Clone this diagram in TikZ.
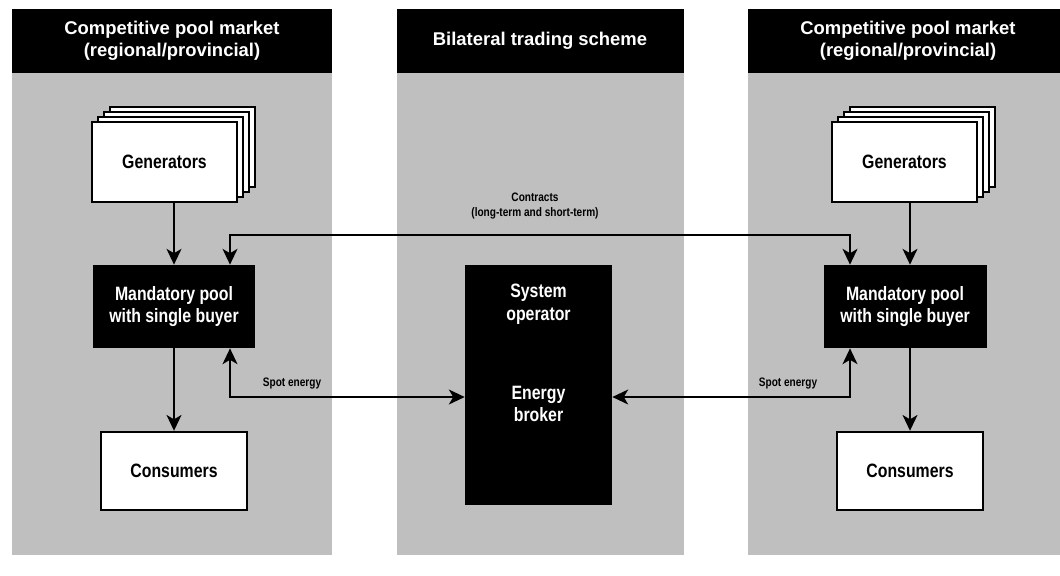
\documentclass[tikz,border=0pt]{standalone}
\usepackage{fontspec}
\setmainfont{Liberation Sans}
\newfontfamily\narrowfont[FakeStretch=0.82]{Liberation Sans}
\usetikzlibrary{arrows.meta}

\tikzset{
  panel/.style={fill=black!25},
  headtext/.style={text=white, font=\bfseries\fontsize{10.5}{12.5}\selectfont, align=center},
  whitebox/.style={draw, line width=1.4pt, fill=white, font=\narrowfont\bfseries\fontsize{11}{13}\selectfont},
  sheet/.style={draw, line width=1.2pt, fill=white},
  blackbox/.style={fill=black, text=white, align=center, font=\narrowfont\bfseries\fontsize{11}{13}\selectfont},
  flow/.style={line width=1pt, >={Stealth[length=9pt,width=8.5pt,inset=2.5pt]}},
  smalltag/.style={font=\narrowfont\bfseries\fontsize{7}{8.5}\selectfont, align=center, inner sep=0pt}
}

\begin{document}
\begin{tikzpicture}[x=0.02cm,y=-0.02cm]
\useasboundingbox (0,0) rectangle (1060,575);
% panels and headings
\fill[panel] (12,73) rectangle (332,555);
\fill[panel] (397,73) rectangle (684,555);
\fill[panel] (748,73) rectangle (1060,555);
\fill (12,9) rectangle (332,73);
\fill (397,9) rectangle (684,73);
\fill (748,9) rectangle (1060,73);
\node[headtext] (headL) at (172,41) {Competitive pool market\\(regional/provincial)};
\node[headtext] (headM) at (540,41) {Bilateral trading scheme};
\node[headtext] (headR) at (908,41) {Competitive pool market\\(regional/provincial)};

% left pool market
\foreach \d in {3,2,1}
  \draw[sheet] (92+6*\d,122-5*\d) rectangle (237+6*\d,202-5*\d);
\node[whitebox, minimum width=2.9cm, minimum height=1.6cm] (genL) at (164.5,162) {Generators};
\node[blackbox, minimum width=3.26cm, minimum height=1.66cm] (poolL) at (174,306.5) {Mandatory pool\\with single buyer};
\node[whitebox, minimum width=2.92cm, minimum height=1.56cm] (consL) at (174,471) {Consumers};
\draw[flow,->] (genL.south -| poolL) -- (poolL.north);
\draw[flow,->] (poolL.south) -- (consL.north);

% system operator
\node[fill=black, minimum width=2.94cm, minimum height=4.8cm] (so) at (538.5,385) {};
\node[blackbox] (soTop) at (538.5,304) {System\\operator};
\node[blackbox] (soBot) at (538.5,404) {Energy\\broker};

% right pool market
\foreach \d in {3,2,1}
  \draw[sheet] (832+6*\d,122-5*\d) rectangle (977+6*\d,202-5*\d);
\node[whitebox, minimum width=2.9cm, minimum height=1.6cm] (genR) at (904.5,162) {Generators};
\node[blackbox, minimum width=3.26cm, minimum height=1.66cm] (poolR) at (905,306.5) {Mandatory pool\\with single buyer};
\node[whitebox, minimum width=2.92cm, minimum height=1.56cm] (consR) at (910,471) {Consumers};
\draw[flow,->] (genR.south -| consR) -- (poolR.north -| consR);
\draw[flow,->] (poolR.south -| consR) -- (consR.north);

% contracts and spot energy
\coordinate (cL) at (230,235);
\coordinate (cR) at (850,235);
\draw[flow,<->] (cL |- poolL.north) -- (cL) -- (cR) -- (cR |- poolR.north);
\node[smalltag] (contr) at (535,206) {Contracts\\(long-term and short-term)};

\coordinate (sL) at (230,397);
\coordinate (sR) at (850,397);
\draw[flow,<->] (sL |- poolL.south) -- (sL) -- (sL -| so.west);
\draw[flow,<->] (sR -| so.east) -- (sR) -- (sR |- poolR.south);
\node[smalltag] (spotL) at (292,383) {Spot energy};
\node[smalltag] (spotR) at (788,383) {Spot energy};
\end{tikzpicture}
\end{document}
